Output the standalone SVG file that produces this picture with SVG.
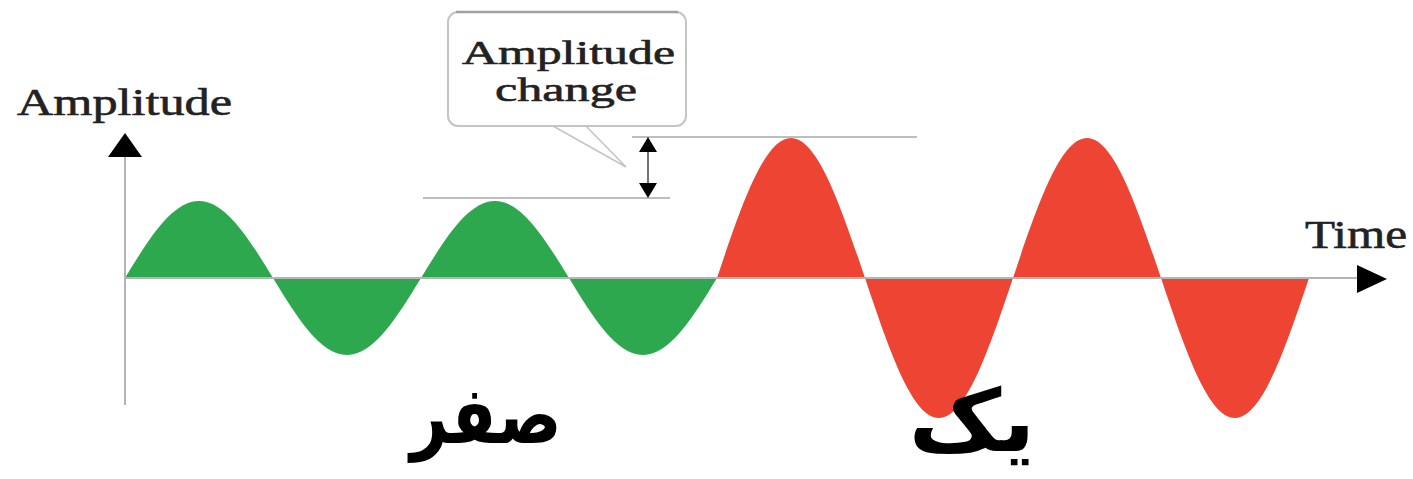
<svg xmlns="http://www.w3.org/2000/svg" width="1413" height="479" viewBox="0 0 1413 479">
  <style>
    .lbl { font-family: "Liberation Serif", "Times New Roman", serif; fill: #222; stroke: #222; stroke-width: 0.6; }
    .fa { font-family: "DejaVu Sans", "Noto Sans", sans-serif; font-weight: bold; fill: #000; direction: rtl; }
    .axis { stroke: #b4b4b4; stroke-width: 2; fill: none; }
    .ref { stroke: #a8a8a8; stroke-width: 1.6; fill: none; }
    .head { fill: #000; }
  </style>
  <rect width="1413" height="479" fill="#ffffff"/>

  <g id="green-wave">
    <path fill="#2da84f" d="M125,278 c24.13,-39.45 47.22,-77 74,-77 c26.78,0 49.87,37.55 74,77 c24.13,39.45 47.22,77 74,77 c26.78,0 49.87,-37.55 74,-77 c24.13,-39.45 47.22,-77 74,-77 c26.78,0 49.87,37.55 74,77 c24.13,39.45 47.22,77 74,77 c26.78,0 49.87,-37.55 74,-77 Z"/>
  </g>
  <g id="red-wave">
    <path fill="#ee4433" d="M717,278 c24.13,-71.72 47.22,-140 74,-140 c26.78,0 49.87,68.28 74,140 c24.13,71.72 47.22,140 74,140 c26.78,0 49.87,-68.28 74,-140 c24.13,-71.72 47.22,-140 74,-140 c26.78,0 49.87,68.28 74,140 c24.13,71.72 47.22,140 74,140 c26.78,0 49.87,-68.28 74,-140 Z"/>
  </g>

  <g id="axes">
    <line class="axis" x1="125" y1="155" x2="125" y2="405"/>
    <line class="axis" x1="125" y1="278" x2="1360" y2="278"/>
    <polygon class="head" points="125,133 142,157 108,157"/>
    <polygon class="head" points="1387,279 1357,265 1357,293"/>
  </g>

  <g id="connectors">
    <line class="ref" x1="632" y1="137" x2="917" y2="137"/>
    <line class="ref" x1="423" y1="198" x2="670" y2="198"/>
    <line x1="648" y1="150" x2="648" y2="185" stroke="#444" stroke-width="1.5"/>
    <polygon class="head" points="648,137 657,152 639,152"/>
    <polygon class="head" points="648,198 657,183 639,183"/>
  </g>

  <g id="callout">
    <path d="M553,126 L626,167 L586,126" fill="#ffffff" stroke="#c4c4c4" stroke-width="1.5"/>
    <rect x="448" y="12" width="238" height="114" rx="10" fill="#ffffff" stroke="#c4c4c4" stroke-width="2"/>
    <line x1="456" y1="12" x2="678" y2="12" stroke="#a0a0a0" stroke-width="2.5"/>
    <text class="lbl" x="462" y="64" font-size="34" textLength="213" lengthAdjust="spacingAndGlyphs">Amplitude</text>
    <text class="lbl" x="495" y="101" font-size="34" textLength="142" lengthAdjust="spacingAndGlyphs">change</text>
  </g>

  <g id="label-amplitude">
    <text class="lbl" x="17" y="115" font-size="38" textLength="215" lengthAdjust="spacingAndGlyphs">Amplitude</text>
  </g>
  <g id="label-time">
    <text class="lbl" x="1305" y="248" font-size="40" textLength="102" lengthAdjust="spacingAndGlyphs">Time</text>
  </g>

  <g id="label-zero">
    <text class="fa" transform="translate(486,443) scale(0.82,1)" x="0" y="0" font-size="80" text-anchor="middle">صفر</text>
  </g>
  <g id="label-one">
    <text class="fa" transform="translate(972,451) scale(1.05,1)" x="0" y="0" font-size="86" text-anchor="middle">یک</text>
  </g>
</svg>
